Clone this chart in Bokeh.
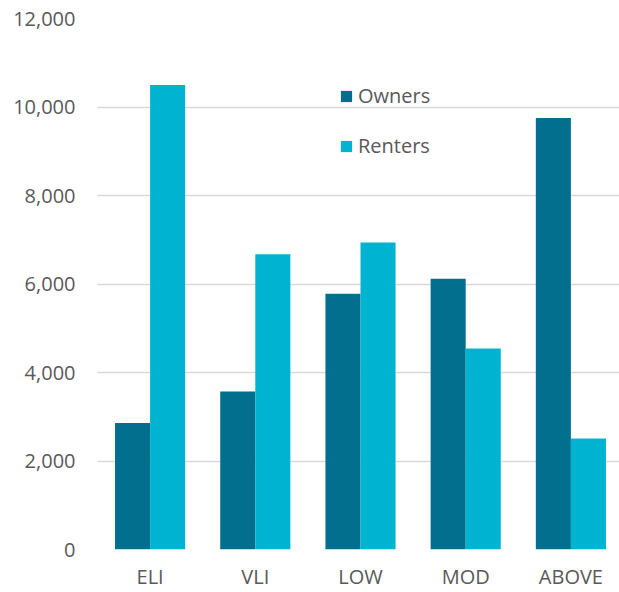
import numpy as np
from bokeh.plotting import figure
from bokeh.models import (ColumnDataSource, Legend, LegendItem, FixedTicker,
                          NumeralTickFormatter, Range1d)
from bokeh.embed import file_html
from bokeh.resources import INLINE

categories = ["ELI", "VLI", "LOW", "MOD", "ABOVE"]
owners = [2860, 3570, 5780, 6120, 9750]
renters = [10500, 6670, 6940, 4540, 2510]
y_ticks = [0, 2000, 4000, 6000, 8000, 10000, 12000]

OWN_C = "#036F8F"
REN_C = "#00B3D1"
TXT_C = "#595959"
FONT = "Open Sans"

idx = np.arange(len(categories))
src = ColumnDataSource(dict(x_own=idx - 1/6, x_ren=idx + 1/6,
                            owners=owners, renters=renters))

p = figure(width=619, height=592, output_backend="svg", toolbar_location=None,
           x_range=Range1d(-0.5, 4.462), y_range=Range1d(0, 12000),
           min_border_left=97, min_border_right=0, min_border_top=18,
           min_border_bottom=43)
p.outline_line_color = None
p.background_fill_color = "white"
p.border_fill_color = "white"

r1 = p.vbar(x="x_own", top="owners", width=1/3, source=src,
            fill_color=OWN_C, line_color=None)
r2 = p.vbar(x="x_ren", top="renters", width=1/3, source=src,
            fill_color=REN_C, line_color=None)

# axes
p.yaxis.ticker = FixedTicker(ticks=y_ticks)
p.yaxis.formatter = NumeralTickFormatter(format="0,0")
p.xaxis.ticker = FixedTicker(ticks=list(idx))
p.xaxis.major_label_overrides = {int(i): c for i, c in zip(idx, categories)}
for ax in (p.xaxis[0], p.yaxis[0]):
    ax.axis_line_color = None
    ax.major_tick_line_color = None
    ax.minor_tick_line_color = None
    ax.major_tick_out = 0
    ax.major_tick_in = 0
    ax.major_label_text_font = FONT
    ax.major_label_text_font_size = "20px"
    ax.major_label_text_color = TXT_C
p.yaxis.major_label_standoff = 22
p.xaxis.major_label_standoff = 13

p.xgrid.grid_line_color = None
p.ygrid.ticker = FixedTicker(ticks=y_ticks)
p.ygrid.grid_line_color = "#D9D9D9"
p.ygrid.grid_line_width = 1.4

legend = Legend(items=[LegendItem(label="Owners", renderers=[r1]),
                       LegendItem(label="Renters", renderers=[r2])],
                location=(242, 390), orientation="vertical",
                background_fill_alpha=0, border_line_color=None,
                padding=0, margin=0, spacing=23,
                glyph_width=14, glyph_height=14, label_height=26,
                label_standoff=5,
                label_text_font=FONT, label_text_font_size="20px",
                label_text_color=TXT_C)
p.add_layout(legend, "center")

open("out.html", "w").write(file_html(p, INLINE))
